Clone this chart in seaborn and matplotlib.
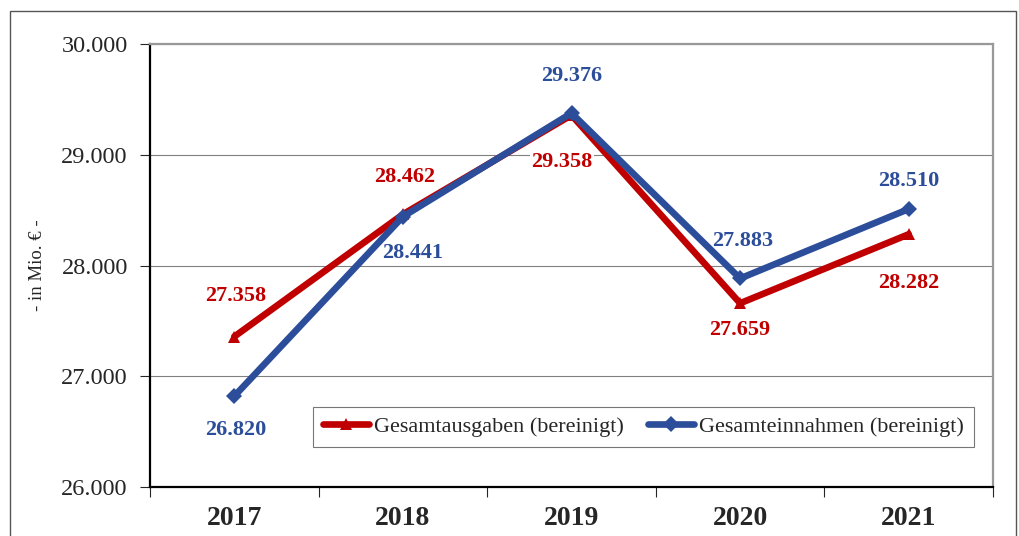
import pandas as pd
import seaborn as sns
import matplotlib.pyplot as plt
from matplotlib.patches import Rectangle
from matplotlib.ticker import FuncFormatter, FixedLocator

# Data (Mio. EUR)
years = ["2017", "2018", "2019", "2020", "2021"]
ausgaben = [27358, 28462, 29358, 27659, 28282]
einnahmen = [26820, 28441, 29376, 27883, 28510]

lbl_aus = "Gesamtausgaben (bereinigt)"
lbl_ein = "Gesamteinnahmen (bereinigt)"
red = "#C00000"
blue = "#2C4D9A"

df = pd.DataFrame({
    "pos": list(range(len(years))) * 2,
    "wert": ausgaben + einnahmen,
    "reihe": [lbl_aus] * len(years) + [lbl_ein] * len(years),
})

sns.set_style("white")
plt.rcParams["font.family"] = ["Liberation Serif", "DejaVu Serif"]

fig = plt.figure(figsize=(10.19, 5.36), dpi=100)
ax = fig.add_axes([150 / 1019, 1 - 487 / 536, 843 / 1019, 443 / 536])

sns.lineplot(data=df, x="pos", y="wert", hue="reihe", style="reihe",
             palette={lbl_aus: red, lbl_ein: blue},
             markers={lbl_aus: "^", lbl_ein: "D"}, dashes=False,
             linewidth=4.8, markersize=8, markeredgewidth=0, ax=ax)

ax.set_xlim(-0.5, 4.5)
ax.set_ylim(26000, 30000)
ax.set_yticks([26000, 27000, 28000, 29000, 30000])
ax.yaxis.set_major_formatter(FuncFormatter(lambda v, p: f"{int(v):,}".replace(",", ".")))
ax.tick_params(axis="y", labelsize=17.5, length=7, width=0.8, direction="out", left=True, pad=9)

ax.set_xticks(range(len(years)))
ax.set_xticklabels(years, fontsize=20, fontweight="bold")
ax.xaxis.set_minor_locator(FixedLocator([i - 0.5 for i in range(len(years) + 1)]))
ax.tick_params(axis="x", which="major", length=0, pad=14)
ax.tick_params(axis="x", which="minor", length=7, width=0.8, direction="out", bottom=True)

ax.grid(axis="y", color="#808080", linewidth=0.8)
ax.set_axisbelow(True)
for s in ["left", "bottom"]:
    ax.spines[s].set_color("black")
    ax.spines[s].set_linewidth(1.6)
for s in ["top", "right"]:
    ax.spines[s].set_color("#999999")
    ax.spines[s].set_linewidth(1.6)

ax.set_xlabel("")
ax.set_ylabel("- in Mio. € -", fontsize=13.5, labelpad=11)

# value labels (offsets in points)
aus_off = [(1, 29), (1, 27), (-7, -34), (0, -19), (0, -35)]
ein_off = [(1, -24), (7, -26), (0, 27), (2, 27), (0, 20)]
for i in range(len(years)):
    ax.annotate(f"{ausgaben[i]:,}".replace(",", "."), (i, ausgaben[i]),
                xytext=aus_off[i], textcoords="offset points",
                ha="center", va="center", fontsize=16, fontweight="bold", color=red,
                bbox=dict(facecolor="white", edgecolor="none", pad=1) if i == 2 else None)
    ax.annotate(f"{einnahmen[i]:,}".replace(",", "."), (i, einnahmen[i]),
                xytext=ein_off[i], textcoords="offset points",
                ha="center", va="center", fontsize=16, fontweight="bold", color=blue)

leg = ax.legend(loc="lower left", bbox_to_anchor=(0.193, 0.09, 0.784, 0.095), mode="expand",
                ncol=2, fontsize=16, frameon=True, fancybox=False, handlelength=2.1,
                handletextpad=0.2, borderaxespad=0, borderpad=0.45, columnspacing=1.0)
leg.get_frame().set_edgecolor("#555555")
leg.get_frame().set_linewidth(0.8)
for h in leg.legend_handles:
    h.set_linewidth(4.8)

# outer frame
fig.patches.append(Rectangle((10 / 1019, -0.05), 1006 / 1019, 1.05 - 11 / 536,
                             transform=fig.transFigure, fill=False,
                             edgecolor="#555555", linewidth=1.0))

fig.savefig("out.png", dpi=100)
